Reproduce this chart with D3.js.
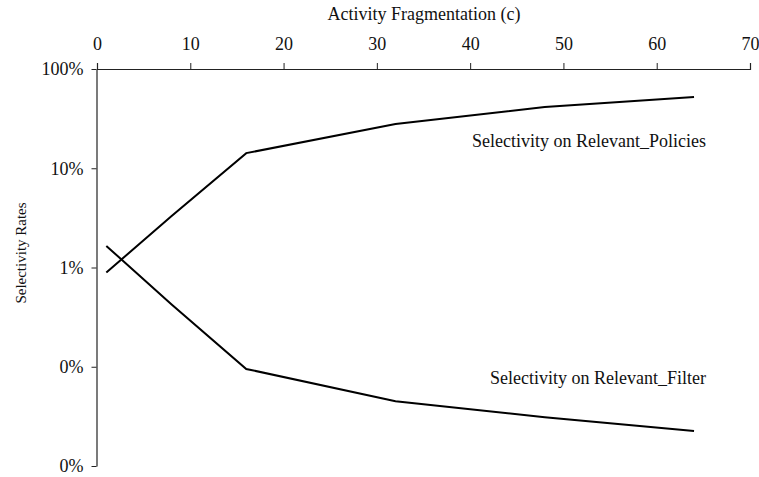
<!DOCTYPE html>
<html>
<head>
<meta charset="utf-8">
<script src="https://cdn.jsdelivr.net/npm/d3@7"></script>
<style>
  body { margin: 0; background: #fff; }
  svg text { font-family: "Liberation Serif", "Times New Roman", serif; fill: #111; }
</style>
</head>
<body>
<div class="chart"></div>
<script>
// data (selectivity as fraction)
const fragmentation = [1, 8, 16, 32, 48, 64];
const policiesRates = [0.0089, 0.033, 0.142, 0.279, 0.414, 0.522];
const filterRates = [0.0165, 0.00425, 0.00095, 0.00045, 0.00031, 0.000225];
const seriesNames = ["Selectivity on Relevant_Policies", "Selectivity on Relevant_Filter"];
const xTicks = [0, 10, 20, 30, 40, 50, 60, 70];
const yTicks = [1, 0.1, 0.01, 0.001, 0.0001];
const yTickLabels = ["100%", "10%", "1%", "0%", "0%"];

const svgWidth = 759;
const svgHeight = 477;
const margin = { top: 69, right: 9, bottom: 11, left: 97 };
const width = svgWidth - margin.left - margin.right;
const height = svgHeight - margin.top - margin.bottom;

const svg = d3.select(".chart")
  .append("svg")
  .attr("width", svgWidth)
  .attr("height", svgHeight);

const chartGroup = svg.append("g")
  .attr("transform", `translate(${margin.left}, ${margin.top})`);

// scales
const xScale = d3.scaleLinear()
  .domain([0, 70])
  .range([0, width]);

const yScale = d3.scaleLog()
  .domain([0.0001, 1])
  .range([height, 0]);

// axes
const xAxis = d3.axisTop(xScale)
  .tickValues(xTicks)
  .tickSize(6)
  .tickPadding(13)
  .tickFormat(d3.format("d"));

const yAxis = d3.axisLeft(yScale)
  .tickValues(yTicks)
  .tickSize(5)
  .tickSizeOuter(0)
  .tickPadding(8)
  .tickFormat((d, i) => yTickLabels[i]);

const xg = chartGroup.append("g").call(xAxis);
const yg = chartGroup.append("g").attr("transform", "translate(-0.5,0)").call(yAxis);

[xg, yg].forEach(g => {
  g.attr("font-size", 18).attr("font-family", null);
  g.select(".domain").attr("stroke", "#222").attr("stroke-width", 1.2);
  g.selectAll(".tick line").attr("stroke", "#222");
  g.selectAll("text").attr("fill", "#111");
});

// axis titles
svg.append("text")
  .attr("x", 424)
  .attr("y", 20)
  .attr("text-anchor", "middle")
  .style("font-size", "18px")
  .text("Activity Fragmentation (c)");

svg.append("text")
  .attr("transform", "translate(26, 253) rotate(-90)")
  .attr("text-anchor", "middle")
  .style("font-size", "15px")
  .text("Selectivity Rates");

// lines
const line = d3.line()
  .x((d, i) => xScale(fragmentation[i]))
  .y(d => yScale(d));

[policiesRates, filterRates].forEach(values => {
  chartGroup.append("path")
    .attr("d", line(values))
    .attr("fill", "none")
    .attr("stroke", "#000")
    .attr("stroke-width", 2);
});

// series labels
chartGroup.append("text")
  .attr("x", 706 - margin.left)
  .attr("y", 147 - margin.top)
  .attr("text-anchor", "end")
  .style("font-size", "18px")
  .text(seriesNames[0]);

chartGroup.append("text")
  .attr("x", 706 - margin.left)
  .attr("y", 384 - margin.top)
  .attr("text-anchor", "end")
  .style("font-size", "18px")
  .text(seriesNames[1]);
</script>
</body>
</html>
